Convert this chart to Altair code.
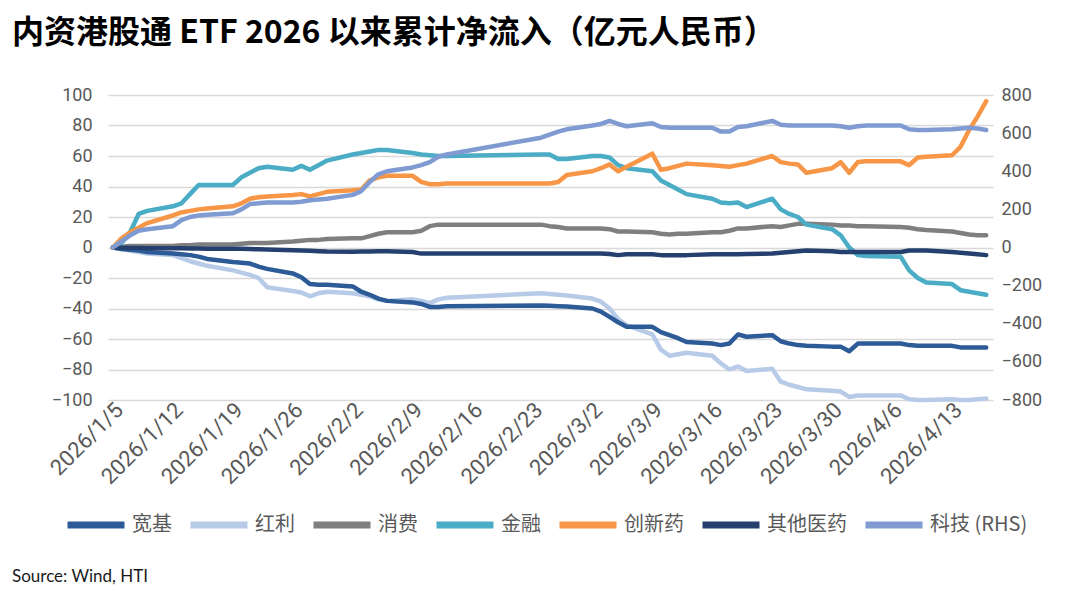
import altair as alt
import pandas as pd

dates = ["2026/1/5","2026/1/6","2026/1/7","2026/1/8","2026/1/9",
         "2026/1/12","2026/1/13","2026/1/14","2026/1/15","2026/1/16",
         "2026/1/19","2026/1/20","2026/1/21","2026/1/22","2026/1/23",
         "2026/1/26","2026/1/27","2026/1/28","2026/1/29","2026/1/30",
         "2026/2/2","2026/2/3","2026/2/4","2026/2/5","2026/2/6",
         "2026/2/9","2026/2/10","2026/2/11","2026/2/12","2026/2/13",
         "2026/2/24","2026/2/25","2026/2/26","2026/2/27",
         "2026/3/2","2026/3/3","2026/3/4","2026/3/5","2026/3/6",
         "2026/3/9","2026/3/10","2026/3/11","2026/3/12","2026/3/13",
         "2026/3/16","2026/3/17","2026/3/18","2026/3/19","2026/3/20",
         "2026/3/23","2026/3/24","2026/3/25","2026/3/26","2026/3/27",
         "2026/3/30","2026/3/31","2026/4/1","2026/4/2","2026/4/3",
         "2026/4/7","2026/4/8","2026/4/9","2026/4/10",
         "2026/4/13","2026/4/14","2026/4/15","2026/4/16","2026/4/17"]

kuanji = [0,-1,-1.5,-2,-3, -4,-4.5,-5,-6,-7.5, -9.5,-10,-10.5,-12.5,-14,
          -17,-19.5,-24,-24.5,-24.5, -25.5,-29,-31,-33.5,-35, -36,-37,-39,-39,-38.5,
          -38,-38.2,-38.5,-38.7, -40,-42,-45.5,-49,-52, -52,-55.5,-57.5,-59.5,-62,
          -63,-64,-63,-57,-58.5, -57.5,-61.5,-63,-64,-64.5, -65,-65,-68,-63,-63,
          -63,-64,-64.5,-64.5, -64.5,-65.5,-65.5,-65.5,-65.5]
hongli = [0,-1,-2,-3,-4, -5,-7,-9,-10.5,-12, -15,-16.5,-18,-20,-26,
          -28.5,-29.5,-32,-30,-29, -30,-31,-32,-34,-35, -34,-35,-36.5,-34,-33,
          -30,-30.5,-31,-31.5, -33.5,-35.5,-40,-47,-51, -57,-67,-71,-70,-69,
          -71,-76,-80,-78,-81, -79.5,-88,-90,-91.5,-93, -94,-94.5,-98,-97,-97,
          -97,-99.5,-100,-100, -99.5,-100,-100,-99.5,-99]
xiaofei = [0,0.5,1,1,1, 1,1.5,1.5,2,2, 2,2.5,3,3,3,
           4,4.5,5,5,5.5, 6,6,7.5,9,10, 10,11,14,15,15,
           15,14,13.5,12.5, 12.5,12.5,12,10.5,10.5, 10,9,8.5,9,9,
           10,10,11,12.5,12.5, 14,13.5,14.5,15.5,15.5, 15,14.5,14.5,14,14,
           13.5,13,12,11.5, 10.5,9.5,8.5,8,8]
jinrong = [0,3,10,22,24, 27,29,35,41,41, 41,46,49,52,53,
           51,53.5,51,54,57, 61,62,63,64,64, 62,61,60.5,60,60,
           61,61,58,58, 60,60,59,54,52, 50,44,41,38,35,
           32,29.5,29,29.5,26.5, 32,25,22,20,15, 12,8,0,-5,-5.5,
           -6,-15,-20,-23, -24,-28,-29,-30,-31]
chuangxin = [0,6,10,13,16, 21,23,24,25,25.5, 27,29,32,33,33.5,
             34.5,35,33.5,35,36.5, 37.5,38,44,46,47, 47,43,41.5,41.5,42,
             42,42,43,47.5, 50,52,54.5,50,53, 61.5,51,52,53.5,55,
             54,53.5,53,54,55, 60,56,55,54.5,49, 52,56,49,56,56.5,
             56.5,54,59,59.5, 60.5,66,77,86,96]
qita = [0,-0.2,-0.3,-0.4,-0.5, -0.5,-0.5,-0.6,-0.7,-0.8, -0.8,-0.9,-1,-1.2,-1.3,
        -1.8,-2,-2.2,-2.4,-2.6, -2.8,-2.7,-2.6,-2.5,-2.5, -3,-4,-4,-4,-4,
        -4,-4,-4,-4, -4,-4,-4.2,-5,-4.5, -4.5,-5,-5,-5,-5,
        -4.5,-4.5,-4.5,-4.5,-4.2, -4,-3.5,-3,-2.5,-2, -2.5,-3,-3,-3,-3,
        -3,-2,-2,-2, -3,-3.5,-4,-4.5,-5]
keji = [0,32,64,88,96, 112,144,160,168,172, 180,200,228,232,236,
        236,240,248,252,256, 276,296,344,384,400, 420,432,448,476,488,
        576,592,608,620, 640,648,664,648,636, 652,632,628,628,628,
        628,608,608,632,636, 664,644,640,640,640, 640,636,628,636,640,
        640,620,616,616, 620,624,628,624,616]

series_names = ["宽基", "红利", "消费", "金融", "创新药", "其他医药", "科技 (RHS)"]
series_colors = ["#2C5B97", "#B7CBE8", "#7F7F7F", "#4BACC6", "#F79646", "#25406F", "#7F9BD1"]
tick_dates = ["2026/1/5","2026/1/12","2026/1/19","2026/1/26","2026/2/2","2026/2/9",
              "2026/2/16","2026/2/23","2026/3/2","2026/3/9","2026/3/16","2026/3/23",
              "2026/3/30","2026/4/6","2026/4/13"]
left_ticks = list(range(-100, 101, 20))
right_ticks = list(range(-800, 801, 200))

title_text = "内资港股通 ETF 2026 以来累计净流入（亿元人民币）"
source_text = "Source: Wind, HTI"

# draw order (bottom to top)
left_order = [("红利", hongli), ("消费", xiaofei), ("宽基", kuanji),
              ("金融", jinrong), ("创新药", chuangxin), ("其他医药", qita)]
rows = []
for k, (name, vals) in enumerate(left_order):
    for d, v in zip(dates, vals):
        rows.append({"date": d, "value": v, "series": name, "z": k})
left_df = pd.DataFrame(rows)
right_df = pd.DataFrame({"date": dates, "value": keji, "series": "科技 (RHS)"})

def dt(s):
    y, m, d = [int(p) for p in s.split("/")]
    return alt.DateTime(year=y, month=m, date=d)

tick_vals = [dt(s) for s in tick_dates]
x_domain = [alt.DateTime(year=2026, month=1, date=4, hours=10),
            alt.DateTime(year=2026, month=4, date=17, hours=19)]

num_font = "Liberation Sans Narrow, Roboto, sans-serif"
label_color = "#595959"

color_scale = alt.Scale(domain=series_names, range=series_colors)

x_enc = alt.X("date:T",
              scale=alt.Scale(domain=x_domain),
              axis=alt.Axis(values=tick_vals, format="%Y/%-m/%-d", labelAngle=-45,
                            labelAlign="right", labelBaseline="middle",
                            labelPadding=6, labelOffset=6, labelFontSize=22,
                            labelFont=num_font,
                            labelColor=label_color, grid=False, ticks=False,
                            domain=False, title=None, labelOverlap=False,
                            labelBound=False, labelFlush=False))

left = alt.Chart(left_df).mark_line(strokeWidth=4.5, strokeJoin="round", strokeCap="round").encode(
    x=x_enc,
    y=alt.Y("value:Q", scale=alt.Scale(domain=[-100, 100], nice=False),
            axis=alt.Axis(values=left_ticks, grid=True, gridColor="#D9D9D9", gridWidth=1.5,
                          domain=False, ticks=False, labelPadding=16, labelFontSize=18,
                          labelFont=num_font, labelColor=label_color, title=None)),
    color=alt.Color("series:N", scale=color_scale, sort=series_names,
                    legend=alt.Legend(title=None, orient="none", direction="horizontal",
                                      columns=7, legendX=-44, legendY=398,
                                      symbolType="stroke", symbolSize=3249,
                                      symbolStrokeWidth=7, labelFontSize=20,
                                      labelFont="Noto Sans CJK SC", labelColor=label_color,
                                      labelOffset=4, columnPadding=4)),
    detail="z:O",
    order="date:T",
)

right = alt.Chart(right_df).mark_line(strokeWidth=4.5, strokeJoin="round", strokeCap="round").encode(
    x=x_enc,
    y=alt.Y("value:Q", scale=alt.Scale(domain=[-800, 800], nice=False),
            axis=alt.Axis(orient="right", values=right_ticks, grid=False, domain=False,
                          ticks=False, labelPadding=8, labelFontSize=18, labelFont=num_font,
                          labelColor=label_color, title=None)),
    color=alt.Color("series:N", scale=color_scale, sort=series_names),
)

source = alt.Chart(pd.DataFrame({"t": [source_text]})).mark_text(
    align="left", baseline="middle", fontSize=17, font="Lato", color="#1A1A1A"
).encode(text="t:N", x=alt.value(-96), y=alt.value(482))

chart = alt.layer(left, right, source).resolve_scale(y="independent").properties(
    width=885, height=305,
    padding={"left": 100, "top": 87, "right": 79, "bottom": 190},
    autosize=alt.AutoSizeParams(type="none"),
    title=alt.TitleParams(title_text, anchor="start", frame="group", dx=-96, offset=36,
                          fontSize=32, font="Noto Sans CJK SC", fontWeight="bold",
                          color="#000000"),
).configure_view(stroke=None)

chart.save("out.html", embed_options={"renderer": "svg", "actions": False})
